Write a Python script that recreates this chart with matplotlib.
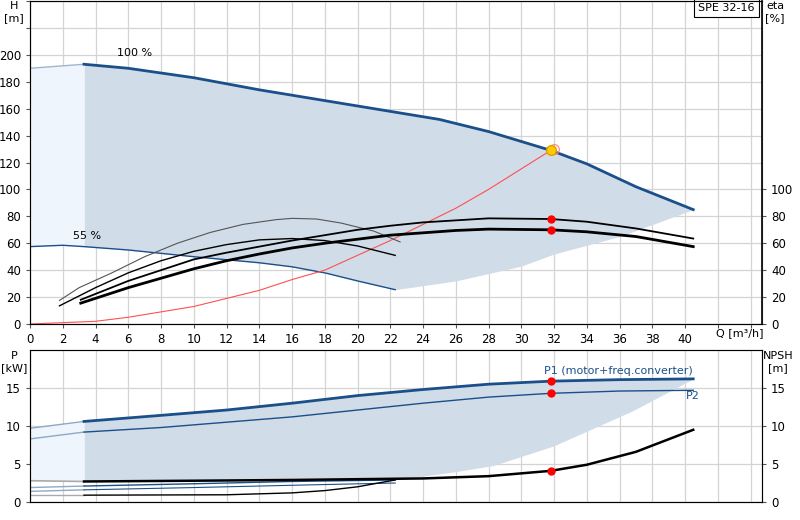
import matplotlib
matplotlib.use("Agg")
import matplotlib.pyplot as plt
import numpy as np

# ---- data ----
h100_q = [3.3, 6, 10, 14, 18, 22, 25, 28, 31.8, 34, 37, 40.5]
h100_h = [193, 190, 183, 174, 166, 158, 152, 143, 129, 119, 102, 85]
h100_lq = [0, 3.3]; h100_lh = [190, 193]
h55_q = [0, 2, 3.3, 6, 10, 14, 16, 18, 20, 22.3]
h55_h = [57.5, 58.5, 57.5, 55, 50, 45.5, 42.5, 38, 32, 25.5]
hmin_q = [22.3, 26, 30, 32, 36, 40.5]
hmin_h = [25.5, 32, 43, 52, 65, 85]
sys_q = [0, 4, 6, 10, 14, 16, 18, 20, 22, 26, 28, 31.8]
sys_h = [0, 2, 5, 13, 25, 33, 40, 51, 62, 86, 100, 129]
eta_up_q = [3.1, 6, 8, 10, 12, 14, 16, 18, 20, 22, 24, 28, 31.8, 34, 37, 40.5]
eta_up = [18, 32, 40, 48, 53, 57.5, 62, 66, 70, 73, 75.5, 78.5, 78, 76, 71, 63.5]
eta_tot_q = [3.1, 6, 8, 10, 12, 14, 16, 18, 20, 22, 26, 28, 31.8, 34, 37, 40.5]
eta_tot = [15.5, 27, 34, 41, 47, 52, 56.5, 60, 63, 66, 69.5, 70.5, 70, 68.5, 65, 57.5]
eta55_q = [1.8, 3, 5, 7, 9, 11, 13, 15, 16, 17.5, 19, 21, 22.6]
eta55 = [17.5, 27, 38, 50, 60, 68, 74, 77.5, 78.5, 78, 75, 69, 61]
eta55t_q = [1.8, 4, 6, 8, 10, 12, 14, 16, 18, 20, 22.3]
eta55t = [13.5, 27, 38, 47, 54, 59, 62.5, 63.5, 62, 58, 51]
dut_q = 31.8; dut_h = 129; dut_eta = [78, 70]

p1_q = [3.3, 8, 12, 16, 20, 24, 28, 31.8, 36, 40.5]
p1 = [10.6, 11.4, 12.1, 13, 14, 14.8, 15.5, 15.9, 16.1, 16.2]
p2 = [9.2, 9.8, 10.5, 11.2, 12.1, 13, 13.8, 14.3, 14.6, 14.7]
p1_l = [9.7, 10.6]; p2_l = [8.3, 9.2]
pmin_q = [3.3, 10, 16, 22.3, 26, 28.3, 32, 36.8, 40.5]
pmin = [2.7, 2.8, 2.9, 2.9, 4.0, 4.8, 7.4, 12.0, 16.2]
npsh_q = [3.3, 10, 16, 20, 24, 28, 31.8, 34, 37, 40.5]
npsh = [2.7, 2.8, 2.9, 3.0, 3.1, 3.4, 4.1, 4.9, 6.6, 9.5]
npsh55_q = [3.3, 12, 16, 18, 20, 22.3]
npsh55 = [0.9, 0.95, 1.2, 1.5, 2.0, 2.9]
p1_55_q = [3.3, 10, 16, 22.3]; p1_55 = [2.1, 2.4, 2.7, 2.9]
p2_55 = [1.6, 1.9, 2.2, 2.5]
dut_p = [15.9, 14.3]; dut_npsh = 4.1

BLUE = "#1b4f8a"; FILL = "#d0dce8"; LFILL = "#eef5fd"; GRID = "#d4d4d4"

def smooth(x, y, n=200):
    xs = np.linspace(x[0], x[-1], n)
    return xs, np.interp(xs, x, y)

fig = plt.figure(figsize=(8, 5.2), dpi=100)
ax = fig.add_axes([30/800, 1-324/520, 732/800, 323/520])
bx = fig.add_axes([30/800, 1-502/520, 732/800, 152/520])

for a in (ax, bx):
    a.set_xlim(0, 44.7)
    a.set_xticks(np.arange(0, 45, 2))
    a.grid(True, color=GRID, lw=0.9)
    a.set_axisbelow(True)
    for s in a.spines.values():
        s.set_color("#555555")
    a.tick_params(labelsize=8.5, length=3, color="#555555")

# top
ax.set_ylim(0, 240)
ax.set_yticks(np.arange(0, 241, 20))
ax.set_yticklabels([str(v) if v <= 200 else "" for v in range(0, 241, 20)])
ax.set_xticklabels([str(v) if v <= 40 else "" for v in range(0, 45, 2)])
# fills
xa, ya = smooth(h100_q, h100_h)
lq = h55_q[2:] + hmin_q[1:]; lh = h55_h[2:] + hmin_h[1:]
ax.fill_between(xa, ya, np.interp(xa, lq, lh), color=FILL, lw=0)
xl = np.linspace(0, 3.3, 20)
ax.fill_between(xl, np.interp(xl, h100_lq, h100_lh), np.interp(xl, h55_q, h55_h), color=LFILL, lw=0)
ax.plot(h100_lq, h100_lh, color="#9fb6cf", lw=1)
ax.plot(h100_q, h100_h, color=BLUE, lw=2)
ax.plot(h55_q, h55_h, color=BLUE, lw=1)
ax.plot(sys_q, sys_h, color="#ff5050", lw=0.8)
ax.plot(eta55_q, eta55, color="#555555", lw=0.8)
ax.plot(eta55t_q, eta55t, color="black", lw=1.0)
ax.plot(eta_up_q, eta_up, color="black", lw=1.3)
ax.plot(eta_tot_q, eta_tot, color="black", lw=2.0)
ax.plot([dut_q]*2, dut_eta, "o", color="red", ms=5)
ax.plot(dut_q + 0.2, dut_h + 1, "o", mfc="none", mec="#ff8080", ms=7, mew=0.8)
ax.plot(dut_q, dut_h, "o", color="#ffcc00", mec="#e0a000", ms=7)
ax.text(5.3, 199, "100 %", fontsize=8)
ax.text(2.6, 63, "55 %", fontsize=8)
ax.text(0.5 / 800 * 0 - 0.9, 243, "H\n[m]", fontsize=8, ha="center", va="top", transform=ax.transData, clip_on=False)
ax2 = ax.twinx()
ax2.set_ylim(0, 240)
ax2.set_yticks(np.arange(0, 101, 20))
ax2.tick_params(labelsize=8.5, length=3, color="#555555")
ax2.spines["right"].set_color("#111111"); ax2.spines["right"].set_linewidth(1.3)
fig.text(775/800, 1-12/520, "eta\n[%]", fontsize=8, ha="center", va="center")
fig.text(14/800, 1-12/520, "H\n[m]", fontsize=8, ha="center", va="center")
ax.texts[-1].remove()
fig.text(740/800, 1-333/520, "Q [m³/h]", fontsize=8, ha="center", va="center")
ax.text(0.99, 0.995, "SPE 32-16", transform=ax.transAxes, ha="right", va="top", fontsize=8,
        bbox=dict(boxstyle="square,pad=0.35", fc="white", ec="black", lw=0.8))

# bottom
bx.set_ylim(0, 20)
bx.set_yticks([0, 5, 10, 15])
bx.set_xticklabels([])
bx.tick_params(axis="x", length=0)
xb, yb = smooth(p1_q, p1)
bx.fill_between(xb, yb, np.interp(xb, pmin_q, pmin), color=FILL, lw=0)
xl = np.linspace(0, 3.3, 20)
bx.fill_between(xl, np.interp(xl, [0, 3.3], p1_l), 2.8, color=LFILL, lw=0)
bx.plot([0, 3.3], p1_l, color="#8fa8c4", lw=1)
bx.plot([0, 3.3], p2_l, color="#8fa8c4", lw=1)
bx.plot(p1_q, p1, color=BLUE, lw=2)
bx.plot(p1_q, p2, color=BLUE, lw=1)
bx.plot([0, 3.3], [2.8, 2.7], color="#aaaaaa", lw=1.2)
bx.plot([0, 3.3], [0.9, 0.9], color="#aaaaaa", lw=1)
bx.plot([0, 3.3], [1.9, 2.1], color="#8fa8c4", lw=1)
bx.plot([0, 3.3], [1.4, 1.6], color="#8fa8c4", lw=1)
bx.plot(p1_55_q, p1_55, color=BLUE, lw=1)
bx.plot(p1_55_q, p2_55, color=BLUE, lw=0.8)
bx.plot(npsh55_q, npsh55, color="black", lw=1.0)
bx.plot(npsh_q, npsh, color="black", lw=1.8)
bx.plot([dut_q]*2, dut_p, "o", color="red", ms=5)
bx.plot(dut_q, dut_npsh, "o", color="red", ms=5)
bx.text(40.5, 16.8, "P1 (motor+freq.converter)", color=BLUE, fontsize=8, ha="right")
bx.text(40.5, 13.5, "P2", color=BLUE, fontsize=8, ha="center")
bx2 = bx.twinx()
bx2.set_ylim(0, 20)
bx2.set_yticks([0, 5, 10, 15])
bx2.tick_params(labelsize=8.5, length=3, color="#555555")
fig.text(14/800, 1-362/520, "P\n[kW]", fontsize=8, ha="center", va="center")
fig.text(778/800, 1-362/520, "NPSH\n[m]", fontsize=8, ha="center", va="center")

fig.savefig("out.png", dpi=100)
